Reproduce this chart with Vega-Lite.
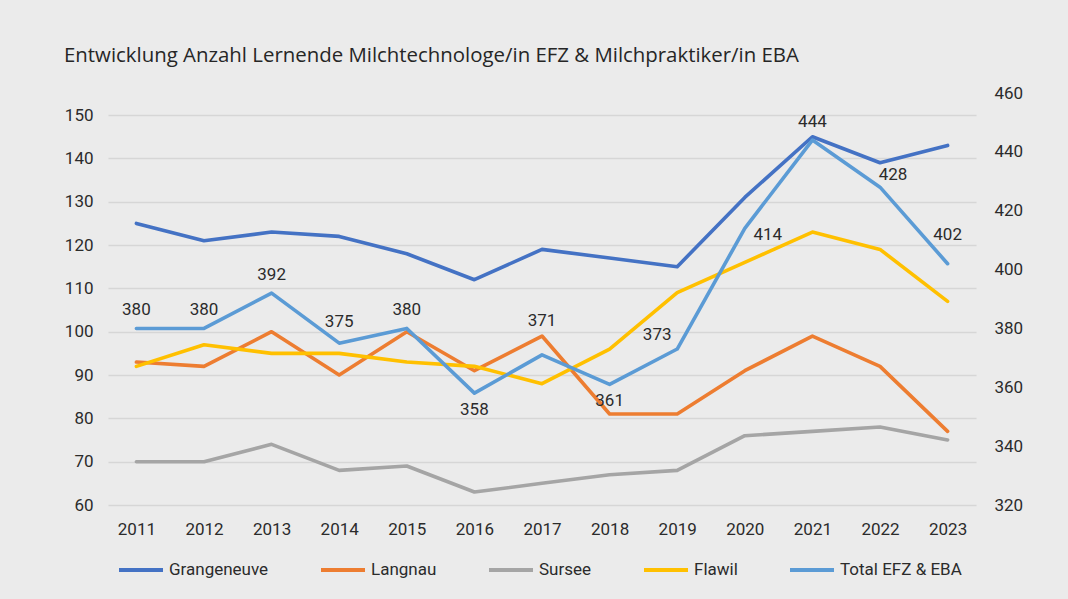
{
  "$schema": "https://vega.github.io/schema/vega-lite/v6.json",
  "autosize": {"type": "none"},
  "width": 868,
  "height": 412,
  "padding": {"left": 108, "top": 93, "right": 92, "bottom": 94},
  "background": "#ebebeb",
  "title": {
    "text": "Entwicklung Anzahl Lernende Milchtechnologe/in EFZ & Milchpraktiker/in EBA",
    "anchor": "start",
    "frame": "group",
    "dx": -44,
    "offset": 18,
    "fontSize": 20.4,
    "fontWeight": "normal",
    "font": "Open Sans",
    "color": "#262626"
  },
  "config": {
    "font": "Roboto",
    "view": {"stroke": null},
    "axis": {"labelFont": "Roboto", "labelFontSize": 17, "labelColor": "#2b2b2b", "domain": false, "ticks": false, "title": null},
    "legend": {
      "orient": "none",
      "legendX": 9,
      "legendY": 453,
      "direction": "horizontal",
      "title": null,
      "symbolType": "stroke",
      "symbolStrokeWidth": 4,
      "symbolSize": 1936,
      "labelFontSize": 17,
      "labelFont": "Roboto",
      "labelColor": "#2b2b2b",
      "labelOffset": 4,
      "columnPadding": 44
    }
  },
  "data": {
    "values": [
      {"year": "2011", "series": "Grangeneuve", "value": 125},
      {"year": "2012", "series": "Grangeneuve", "value": 121},
      {"year": "2013", "series": "Grangeneuve", "value": 123},
      {"year": "2014", "series": "Grangeneuve", "value": 122},
      {"year": "2015", "series": "Grangeneuve", "value": 118},
      {"year": "2016", "series": "Grangeneuve", "value": 112},
      {"year": "2017", "series": "Grangeneuve", "value": 119},
      {"year": "2018", "series": "Grangeneuve", "value": 117},
      {"year": "2019", "series": "Grangeneuve", "value": 115},
      {"year": "2020", "series": "Grangeneuve", "value": 131},
      {"year": "2021", "series": "Grangeneuve", "value": 145},
      {"year": "2022", "series": "Grangeneuve", "value": 139},
      {"year": "2023", "series": "Grangeneuve", "value": 143},
      {"year": "2011", "series": "Langnau", "value": 93},
      {"year": "2012", "series": "Langnau", "value": 92},
      {"year": "2013", "series": "Langnau", "value": 100},
      {"year": "2014", "series": "Langnau", "value": 90},
      {"year": "2015", "series": "Langnau", "value": 100},
      {"year": "2016", "series": "Langnau", "value": 91},
      {"year": "2017", "series": "Langnau", "value": 99},
      {"year": "2018", "series": "Langnau", "value": 81},
      {"year": "2019", "series": "Langnau", "value": 81},
      {"year": "2020", "series": "Langnau", "value": 91},
      {"year": "2021", "series": "Langnau", "value": 99},
      {"year": "2022", "series": "Langnau", "value": 92},
      {"year": "2023", "series": "Langnau", "value": 77},
      {"year": "2011", "series": "Sursee", "value": 70},
      {"year": "2012", "series": "Sursee", "value": 70},
      {"year": "2013", "series": "Sursee", "value": 74},
      {"year": "2014", "series": "Sursee", "value": 68},
      {"year": "2015", "series": "Sursee", "value": 69},
      {"year": "2016", "series": "Sursee", "value": 63},
      {"year": "2017", "series": "Sursee", "value": 65},
      {"year": "2018", "series": "Sursee", "value": 67},
      {"year": "2019", "series": "Sursee", "value": 68},
      {"year": "2020", "series": "Sursee", "value": 76},
      {"year": "2021", "series": "Sursee", "value": 77},
      {"year": "2022", "series": "Sursee", "value": 78},
      {"year": "2023", "series": "Sursee", "value": 75},
      {"year": "2011", "series": "Flawil", "value": 92},
      {"year": "2012", "series": "Flawil", "value": 97},
      {"year": "2013", "series": "Flawil", "value": 95},
      {"year": "2014", "series": "Flawil", "value": 95},
      {"year": "2015", "series": "Flawil", "value": 93},
      {"year": "2016", "series": "Flawil", "value": 92},
      {"year": "2017", "series": "Flawil", "value": 88},
      {"year": "2018", "series": "Flawil", "value": 96},
      {"year": "2019", "series": "Flawil", "value": 109},
      {"year": "2020", "series": "Flawil", "value": 116},
      {"year": "2021", "series": "Flawil", "value": 123},
      {"year": "2022", "series": "Flawil", "value": 119},
      {"year": "2023", "series": "Flawil", "value": 107},
      {"year": "2011", "series": "Total EFZ & EBA", "value": 380},
      {"year": "2012", "series": "Total EFZ & EBA", "value": 380},
      {"year": "2013", "series": "Total EFZ & EBA", "value": 392},
      {"year": "2014", "series": "Total EFZ & EBA", "value": 375},
      {"year": "2015", "series": "Total EFZ & EBA", "value": 380},
      {"year": "2016", "series": "Total EFZ & EBA", "value": 358},
      {"year": "2017", "series": "Total EFZ & EBA", "value": 371},
      {"year": "2018", "series": "Total EFZ & EBA", "value": 361},
      {"year": "2019", "series": "Total EFZ & EBA", "value": 373},
      {"year": "2020", "series": "Total EFZ & EBA", "value": 414},
      {"year": "2021", "series": "Total EFZ & EBA", "value": 444},
      {"year": "2022", "series": "Total EFZ & EBA", "value": 428},
      {"year": "2023", "series": "Total EFZ & EBA", "value": 402}
    ]
  },
  "encoding": {
    "x": {
      "field": "year",
      "type": "ordinal",
      "scale": {"type": "point", "padding": 0.42},
      "axis": {"labelAngle": 0, "labelPadding": 16, "grid": false}
    }
  },
  "layer": [
    {
      "transform": [{"filter": "datum.series !== 'Total EFZ & EBA'"}],
      "mark": {"type": "line", "strokeWidth": 3.6, "strokeCap": "round", "strokeJoin": "round"},
      "encoding": {
        "y": {
          "field": "value",
          "type": "quantitative",
          "scale": {"domain": [60, 155.1], "nice": false, "zero": false},
          "axis": {"values": [60, 70, 80, 90, 100, 110, 120, 130, 140, 150], "grid": true, "gridColor": "#d6d6d6", "gridWidth": 1.4, "labelPadding": 15}
        },
        "color": {
          "field": "series",
          "type": "nominal",
          "scale": {
            "domain": ["Grangeneuve", "Langnau", "Sursee", "Flawil", "Total EFZ & EBA"],
            "range": ["#4472c4", "#ed7d31", "#a5a5a5", "#ffc000", "#5b9bd5"]
          }
        }
      }
    },
    {
      "transform": [{"filter": "datum.series === 'Total EFZ & EBA'"}],
      "encoding": {
        "y": {
          "field": "value",
          "type": "quantitative",
          "scale": {"domain": [320, 460], "nice": false, "zero": false},
          "axis": {"orient": "right", "values": [320, 340, 360, 380, 400, 420, 440, 460], "grid": false, "labelPadding": 18}
        }
      },
      "layer": [
        {
          "mark": {"type": "line", "strokeWidth": 3.6, "strokeCap": "round", "strokeJoin": "round"},
          "encoding": {"color": {"field": "series", "type": "nominal"}}
        },
        {
          "transform": [{"filter": {"field": "year", "oneOf": ["2011", "2012", "2013", "2015", "2021"]}}],
          "mark": {"type": "text", "dy": -18, "fontSize": 17, "color": "#2b2b2b", "baseline": "middle"},
          "encoding": {"text": {"field": "value", "type": "quantitative"}}
        },
        {
          "transform": [{"filter": {"field": "year", "oneOf": ["2014"]}}],
          "mark": {"type": "text", "dy": -21, "fontSize": 17, "color": "#2b2b2b", "baseline": "middle"},
          "encoding": {"text": {"field": "value", "type": "quantitative"}}
        },
        {
          "transform": [{"filter": {"field": "year", "oneOf": ["2017"]}}],
          "mark": {"type": "text", "dy": -34, "fontSize": 17, "color": "#2b2b2b", "baseline": "middle"},
          "encoding": {"text": {"field": "value", "type": "quantitative"}}
        },
        {
          "transform": [{"filter": {"field": "year", "oneOf": ["2023"]}}],
          "mark": {"type": "text", "dy": -29, "fontSize": 17, "color": "#2b2b2b", "baseline": "middle"},
          "encoding": {"text": {"field": "value", "type": "quantitative"}}
        },
        {
          "transform": [{"filter": {"field": "year", "oneOf": ["2016", "2018"]}}],
          "mark": {"type": "text", "dy": 17, "fontSize": 17, "color": "#2b2b2b", "baseline": "middle"},
          "encoding": {"text": {"field": "value", "type": "quantitative"}}
        },
        {
          "transform": [{"filter": {"field": "year", "oneOf": ["2019"]}}],
          "mark": {"type": "text", "dx": -20, "dy": -14, "fontSize": 17, "color": "#2b2b2b", "baseline": "middle"},
          "encoding": {"text": {"field": "value", "type": "quantitative"}}
        },
        {
          "transform": [{"filter": {"field": "year", "oneOf": ["2020"]}}],
          "mark": {"type": "text", "dx": 23, "dy": 7, "fontSize": 17, "color": "#2b2b2b", "baseline": "middle"},
          "encoding": {"text": {"field": "value", "type": "quantitative"}}
        },
        {
          "transform": [{"filter": {"field": "year", "oneOf": ["2022"]}}],
          "mark": {"type": "text", "dx": 13, "dy": -12, "fontSize": 17, "color": "#2b2b2b", "baseline": "middle"},
          "encoding": {"text": {"field": "value", "type": "quantitative"}}
        }
      ]
    }
  ],
  "resolve": {"scale": {"y": "independent"}}
}
